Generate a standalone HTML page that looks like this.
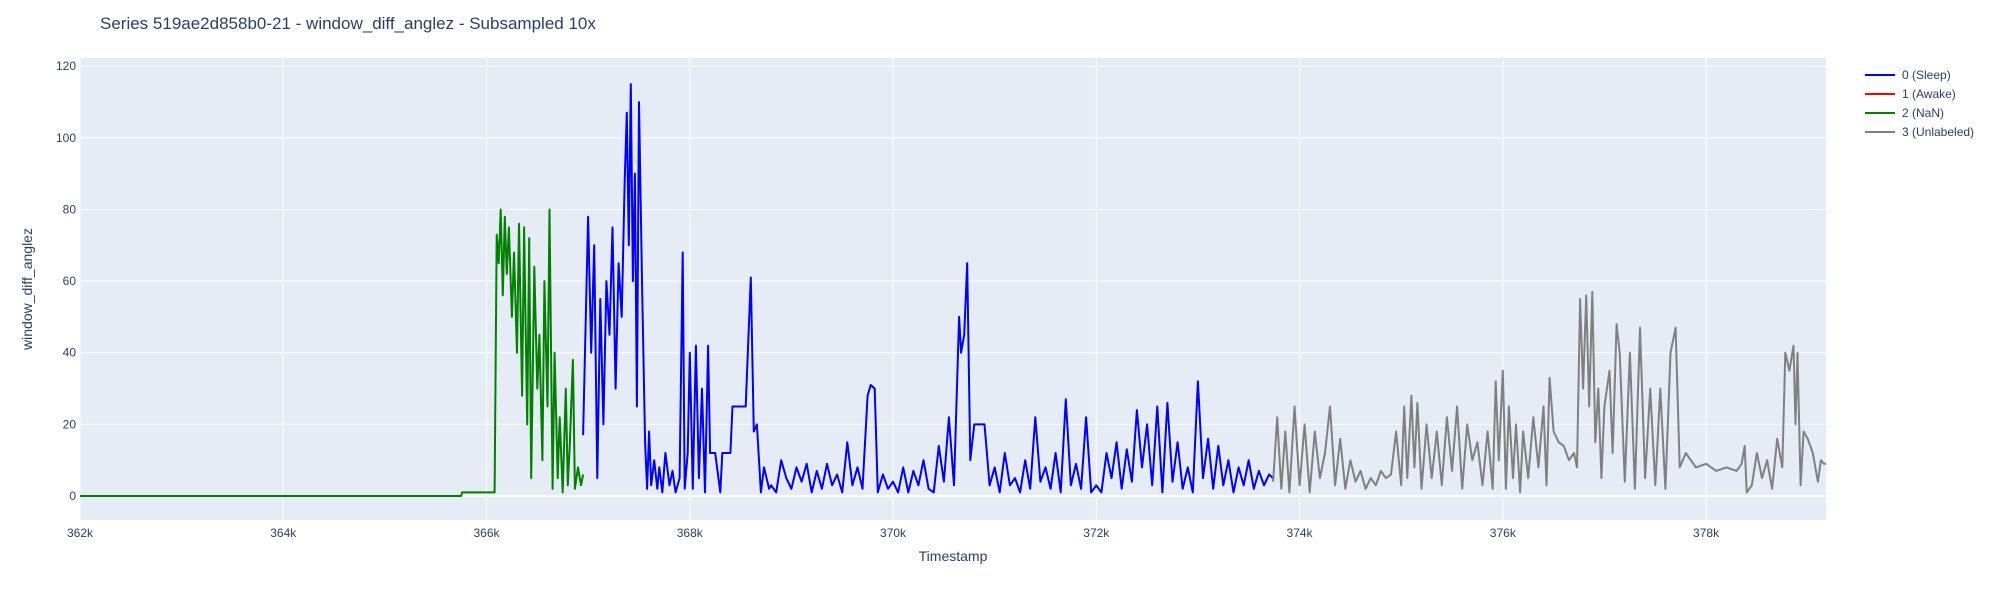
<!DOCTYPE html>
<html><head><meta charset="utf-8"><style>
body{margin:0;background:#fff;width:2000px;height:600px;overflow:hidden;font-family:"Liberation Sans",Arial,sans-serif}
svg text{font-family:"Liberation Sans",Arial,sans-serif}
</style></head><body>
<svg id="chart" width="2000" height="600" xmlns="http://www.w3.org/2000/svg">
<rect width="2000" height="600" fill="#fff"/>
<text x="100" y="29" font-size="17" fill="#2a3f5f">Series 519ae2d858b0-21 - window_diff_anglez - Subsampled 10x</text>
<rect x="80" y="58" width="1746" height="462" fill="#e5ecf6"/>
<g id="grid"></g><g id="series"></g><g id="ticks"></g>
<text x="953" y="561" font-size="14" fill="#2a3f5f" text-anchor="middle">Timestamp</text>
<text transform="translate(32,289) rotate(-90)" font-size="14" fill="#2a3f5f" text-anchor="middle">window_diff_anglez</text>
<g id="legend"></g>
</svg>
<script>
const xTicks=[362,364,366,368,370,372,374,376,378];
const yTicks=[0,20,40,60,80,100,120];
const greenX=[362,365.75,365.76,366.07,366.08,366.1,366.12,366.14,366.16,366.18,366.2,366.22,366.25,366.27,366.3,366.32,366.35,366.37,366.4,366.42,366.44,366.47,366.5,366.52,366.55,366.57,366.6,366.62,366.65,366.67,366.7,366.72,366.75,366.78,366.8,366.82,366.85,366.87,366.9,366.93,366.95];
const greenY=[0,0,1,1,1,73,65,80,56,78,62,75,50,68,40,76,28,75,20,72,5,64,30,45,10,60,25,80,2,40,5,22,1,30,3,15,38,2,8,3,6];
const blueX=[366.95,367.0,367.03,367.06,367.09,367.12,367.15,367.18,367.21,367.24,367.27,367.3,367.33,367.36,367.38,367.4,367.42,367.44,367.46,367.48,367.5,367.53,367.56,367.58,367.6,367.62,367.65,367.68,367.7,367.73,367.76,367.8,367.83,367.86,367.9,367.93,367.95,367.98,368.0,368.03,368.06,368.09,368.12,368.15,368.18,368.2,368.25,368.3,368.32,368.4,368.42,368.55,368.6,368.63,368.66,368.7,368.73,368.78,368.8,368.85,368.9,368.95,369.0,369.05,369.1,369.15,369.2,369.25,369.3,369.35,369.4,369.45,369.5,369.55,369.6,369.65,369.7,369.75,369.78,369.82,369.85,369.9,369.95,370.0,370.05,370.1,370.15,370.2,370.25,370.3,370.35,370.4,370.45,370.5,370.55,370.6,370.65,370.67,370.7,370.73,370.76,370.8,370.9,370.95,371.0,371.05,371.1,371.15,371.2,371.25,371.3,371.35,371.4,371.45,371.5,371.55,371.6,371.65,371.7,371.75,371.8,371.85,371.9,371.95,372.0,372.05,372.1,372.15,372.2,372.25,372.3,372.35,372.4,372.45,372.5,372.55,372.6,372.65,372.7,372.75,372.8,372.85,372.9,372.95,373.0,373.05,373.1,373.15,373.2,373.25,373.3,373.35,373.4,373.45,373.5,373.55,373.6,373.65,373.7,373.74];
const blueY=[17,78,40,70,5,55,20,60,45,75,30,65,50,88,107,70,115,60,90,25,110,60,15,2,18,3,10,2,8,1,12,3,7,1,5,68,2,12,40,2,42,5,30,1,42,12,12,1,12,12,25,25,61,18,20,1,8,2,3,1,10,5,2,8,4,9,1,7,2,9,3,6,1,15,3,8,2,28,31,30,1,6,2,4,1,8,1,7,3,10,2,1,14,4,22,3,50,40,45,65,10,20,20,3,8,1,12,3,5,1,10,2,22,4,8,2,12,1,27,3,9,2,22,1,3,1,12,5,15,2,13,4,24,8,20,3,25,1,26,4,15,2,8,1,32,5,16,2,14,3,10,1,8,3,10,2,7,3,6,5];
const grayX=[373.74,373.78,373.82,373.86,373.9,373.95,374.0,374.05,374.1,374.15,374.2,374.25,374.3,374.35,374.4,374.45,374.5,374.55,374.6,374.65,374.7,374.75,374.8,374.85,374.9,374.95,375.0,375.03,375.06,375.1,375.13,375.16,375.2,375.25,375.3,375.35,375.4,375.45,375.5,375.55,375.6,375.65,375.7,375.75,375.8,375.85,375.9,375.93,375.96,376.0,376.03,376.06,376.1,376.13,376.17,376.2,376.25,376.3,376.35,376.4,376.43,376.46,376.5,376.55,376.6,376.65,376.7,376.73,376.76,376.79,376.82,376.85,376.88,376.91,376.94,376.97,377.0,377.05,377.08,377.12,377.15,377.2,377.25,377.3,377.35,377.4,377.45,377.5,377.55,377.6,377.65,377.7,377.74,377.8,377.9,378.0,378.1,378.2,378.3,378.35,378.38,378.4,378.45,378.5,378.55,378.6,378.65,378.7,378.75,378.78,378.82,378.86,378.88,378.9,378.93,378.96,379.0,379.05,379.1,379.13,379.16,379.18];
const grayY=[4,22,2,18,1,25,3,20,1,18,5,12,25,3,16,2,10,4,7,2,5,3,7,5,6,18,3,25,5,28,8,26,2,20,5,18,3,22,7,25,2,20,10,15,3,18,2,32,10,35,2,25,5,20,1,18,5,22,8,25,3,33,18,15,14,10,12,8,55,30,56,25,57,15,30,5,25,35,12,48,40,4,40,2,47,5,30,3,30,2,40,47,8,12,8,9,7,8,7,9,14,1,3,12,5,10,2,16,8,40,35,42,20,40,3,18,16,12,4,10,9,9];
const xMin=362,xMax=379.18,yMin=-6.7,yMax=122.3;
const L=80,R=1826,T=58,B=520;
const NS="http://www.w3.org/2000/svg";
function sx(v){return L+(v-xMin)/(xMax-xMin)*(R-L);}
function sy(v){return B-(v-yMin)/(yMax-yMin)*(B-T);}
const grid=document.getElementById('grid'),ticks=document.getElementById('ticks');
xTicks.forEach(t=>{
 const l=document.createElementNS(NS,'line');
 
 
 l.setAttribute('x1',sx(t));l.setAttribute('x2',sx(t));l.setAttribute('y1',T);l.setAttribute('y2',B);
 l.setAttribute('stroke','#fff');l.setAttribute('stroke-width','1');grid.appendChild(l);
 const tx=document.createElementNS(NS,'text');
 
 
 tx.setAttribute('x',sx(t));tx.setAttribute('y',537);tx.setAttribute('text-anchor','middle');
 tx.setAttribute('font-size','12');tx.setAttribute('fill','#2a3f5f');tx.textContent=t+'k';ticks.appendChild(tx);
});
yTicks.forEach(t=>{
 const l=document.createElementNS(NS,'line');
 
 
 l.setAttribute('x1',L);l.setAttribute('x2',R);l.setAttribute('y1',sy(t));l.setAttribute('y2',sy(t));
 l.setAttribute('stroke','#fff');l.setAttribute('stroke-width',t===0?'2':'1');grid.appendChild(l);
 const tx=document.createElementNS(NS,'text');
 
 
 tx.setAttribute('x',L-4);tx.setAttribute('y',sy(t)+4);tx.setAttribute('text-anchor','end');
 tx.setAttribute('font-size','12');tx.setAttribute('fill','#2a3f5f');tx.textContent=t;ticks.appendChild(tx);
});
const ser=document.getElementById('series');
function draw(xs,ys,color,name){
 const p=document.createElementNS(NS,'path');
 
 
 p.setAttribute('d',xs.map((x,i)=>(i?'L':'M')+sx(x).toFixed(1)+','+sy(ys[i]).toFixed(1)).join(''));
 p.setAttribute('fill','none');p.setAttribute('stroke',color);p.setAttribute('stroke-width','2');p.setAttribute('stroke-linejoin','round');
 ser.appendChild(p);
}
draw(greenX,greenY,'#008000','series-nan-line');
draw(blueX,blueY,'#0000ff','series-sleep-line');
draw(grayX,grayY,'#808080','series-unlabeled-line');
const leg=document.getElementById('legend');
const legNames=['0 (Sleep)','1 (Awake)','2 (NaN)','3 (Unlabeled)'];
const legColors=['#0000ff','#ff0000','#008000','#808080'];
legNames.forEach((n,i)=>{
 const y=75+i*19;
 const l=document.createElementNS(NS,'line');
 
 
 l.setAttribute('x1',1865);l.setAttribute('x2',1895);l.setAttribute('y1',y);l.setAttribute('y2',y);
 l.setAttribute('stroke',legColors[i]);l.setAttribute('stroke-width','2');leg.appendChild(l);
 const t=document.createElementNS(NS,'text');
 
 
 t.setAttribute('x',1902);t.setAttribute('y',y+4);t.setAttribute('font-size','12');t.setAttribute('fill','#2a3f5f');
 t.textContent=n;leg.appendChild(t);
});
</script>
</body></html>
